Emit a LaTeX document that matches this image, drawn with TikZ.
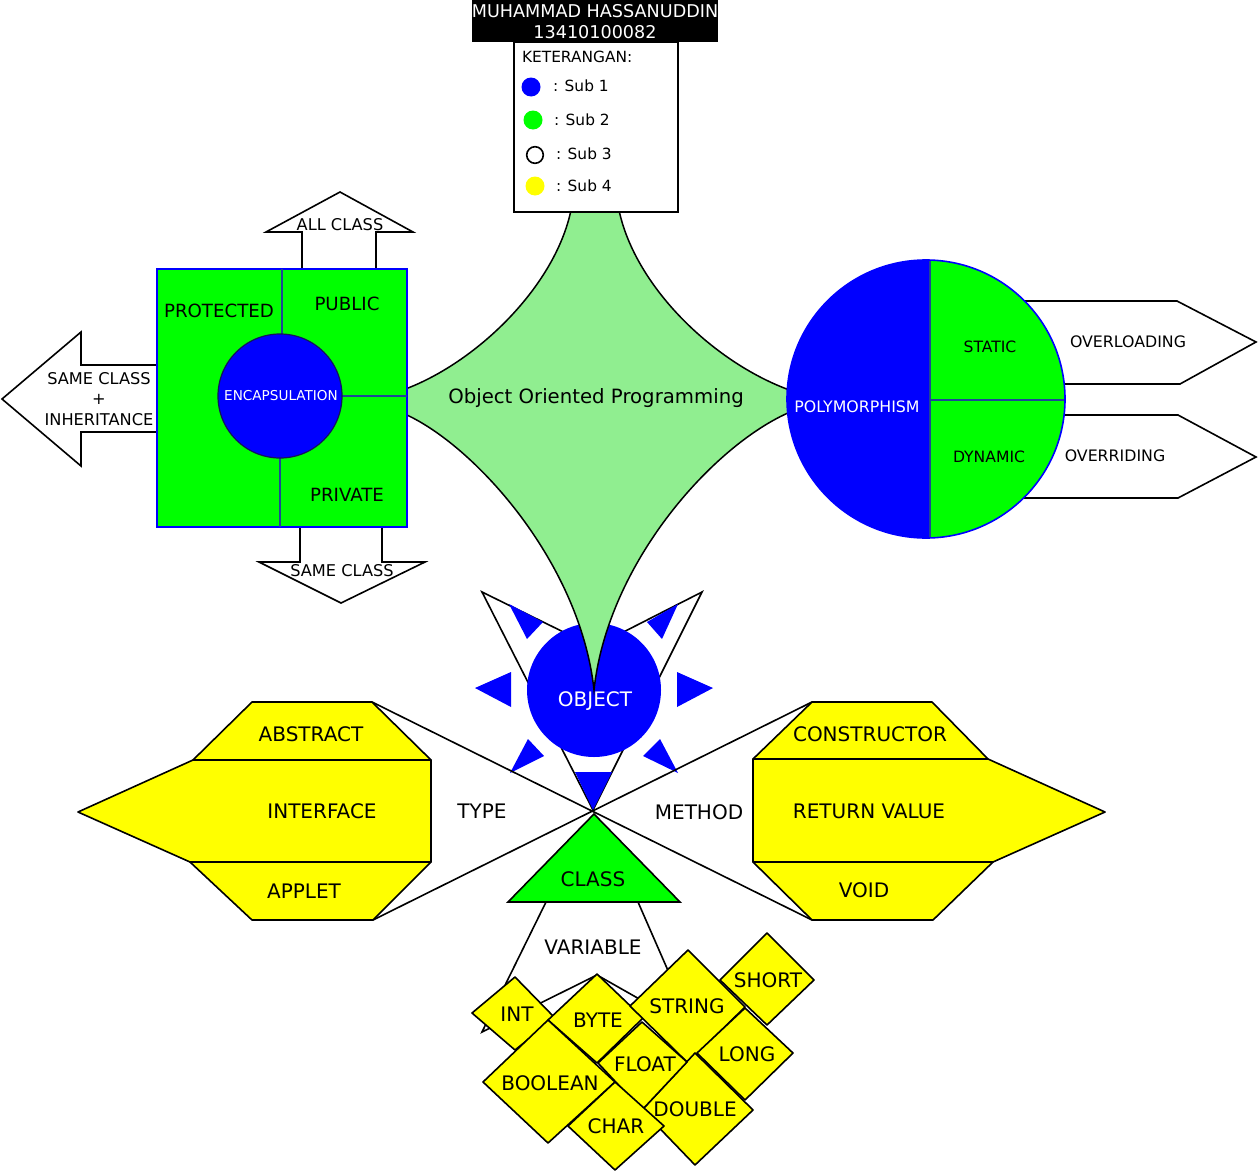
\documentclass[tikz,border=0pt]{standalone}
\usepackage{fontspec}
\setmainfont{DejaVu Sans}
\definecolor{lgreen}{HTML}{90EE90}
\definecolor{fgreen}{HTML}{00FF00}
\definecolor{fblue}{HTML}{0000FF}
\definecolor{fyellow}{HTML}{FFFF00}
\definecolor{divc}{RGB}{30,70,150}
\tikzset{
  fs/.style={font=\fontsize{#1}{#1}\selectfont},
  lbl/.style={inner sep=0pt, outer sep=0pt, anchor=center},
  wlbl/.style={lbl, text=white},
  ln/.style={draw=black, line width=1.6},
  shp/.style={ln, fill=white},
  yel/.style={ln, fill=fyellow, line join=round},
  divline/.style={draw=divc, line width=1.8},
  sun/.style={fill=fblue, draw=none},
}
\begin{document}
\begin{tikzpicture}[x=1pt,y=-1pt]
\useasboundingbox (0,0) rectangle (1260,1175);
\fill[white] (0,0) rectangle (1260,1175);

% ---------------- OBJECT area ----------------
\filldraw[shp] (482,592) -- (594,647) -- (702,592) -- (593,810) -- cycle;
\filldraw[sun] (509,604) -- (543,622) -- (527,639) -- cycle;
\filldraw[sun] (678,604) -- (647,622) -- (662,639) -- cycle;
\filldraw[sun] (475,688) -- (511,672) -- (511,707) -- cycle;
\filldraw[sun] (713,688) -- (677,672) -- (677,707) -- cycle;
\filldraw[sun] (510,773) -- (528,739) -- (544,756) -- cycle;
\filldraw[sun] (678,773) -- (660,739) -- (643,756) -- cycle;
\filldraw[sun] (575,772) -- (612,772) -- (593,810) -- cycle;
\node (object) [circle, fill=fblue, minimum size=134pt, inner sep=0pt] at (594,690) {};

% ---------------- central star ----------------
\filldraw[fill=lgreen, draw=black, line width=1.5]
  (572,205) .. controls (558,285) and (475,365) .. (400,391)
  -- (400,412) .. controls (470,440) and (580,560) .. (594,690)
  .. controls (608,560) and (718,440) .. (795,410)
  -- (795,392) .. controls (715,365) and (632,285) .. (618,205) -- cycle;
\node (oop) [lbl, fs=19.7] at (596,398) {Object Oriented Programming};
\node (objtxt) [wlbl, fs=20] at (595,701) {OBJECT};

% ---------------- TYPE / METHOD ----------------
\coordinate (absTR) at (372,702);
\coordinate (appBR) at (373,920);
\coordinate (conTL) at (812,702);
\coordinate (voiBL) at (812,920);
\draw[ln] (absTR) -- (voiBL);
\draw[ln] (appBR) -- (conTL);

\filldraw[yel] (252,702) -- (absTR) -- (431,760) -- (193,760) -- cycle;
\filldraw[yel] (193,760) -- (431,760) -- (431,862) -- (190,862) -- (78,812) -- cycle;
\filldraw[yel] (190,862) -- (431,862) -- (appBR) -- (252,920) -- cycle;
\node (abstract) [lbl, fs=20] at (311,734) {ABSTRACT};
\node (interface) [lbl, fs=20] at (322,811) {INTERFACE};
\node (applet) [lbl, fs=20] at (304,891) {APPLET};

\filldraw[yel] (conTL) -- (932,702) -- (988,759) -- (753,759) -- cycle;
\filldraw[yel] (753,759) -- (988,759) -- (1105,812) -- (993,862) -- (753,862) -- cycle;
\filldraw[yel] (753,862) -- (993,862) -- (933,920) -- (voiBL) -- cycle;
\node (constructor) [lbl, fs=20] at (870,734) {CONSTRUCTOR};
\node (retval) [lbl, fs=20] at (869,811) {RETURN VALUE};
\node (void) [lbl, fs=20] at (864,890) {VOID};

\node (type) [lbl, fs=20] at (482,811) {TYPE};
\node (method) [lbl, fs=20] at (699,812) {METHOD};

% ---------------- VARIABLE ----------------
\filldraw[shp] (546,902) -- (482,1032) -- (597,975) -- (694,1030) -- (638,902);
\filldraw[ln, fill=fgreen] (508,902) -- (680,902) -- (594,814) -- cycle;
\node (class) [lbl, fs=20] at (593,879) {CLASS};
\node (variable) [lbl, fs=20] at (593,947) {VARIABLE};

\filldraw[yel] (515,977) -- (555,1018) -- (515,1050) -- (472,1013) -- cycle;
\node (int) [lbl, fs=20] at (517,1014) {INT};
\filldraw[yel] (597,974) -- (643,1018) -- (597,1063) -- (548,1020) -- cycle;
\node (byte) [lbl, fs=20] at (598,1020) {BYTE};
\filldraw[yel] (688,950) -- (745,1007) -- (688,1063) -- (630,1006) -- cycle;
\node (string) [lbl, fs=20] at (687,1006) {STRING};
\filldraw[yel] (767,933) -- (814,980) -- (767,1025) -- (720,980) -- cycle;
\node (short) [lbl, fs=20] at (768,980) {SHORT};
\filldraw[yel] (745,1008) -- (793,1053) -- (745,1100) -- (697,1053) -- cycle;
\node (long) [lbl, fs=20] at (747,1054) {LONG};
\filldraw[yel] (695,1053) -- (753,1110) -- (695,1165) -- (642,1110) -- cycle;
\node (double) [lbl, fs=20] at (695,1109) {DOUBLE};
\filldraw[yel] (642,1022) -- (687,1062) -- (642,1110) -- (598,1063) -- cycle;
\node (float) [lbl, fs=20] at (645,1064) {FLOAT};
\filldraw[yel] (548,1020) -- (615,1082) -- (548,1143) -- (483,1082) -- cycle;
\node (boolean) [lbl, fs=20] at (550,1083) {BOOLEAN};
\filldraw[yel] (615,1082) -- (664,1126) -- (615,1170) -- (568,1126) -- cycle;
\node (char) [lbl, fs=20] at (616,1126) {CHAR};

% ---------------- ENCAPSULATION ----------------
\filldraw[shp] (302,275) -- (302,232) -- (266,232) -- (340,192) -- (413,232) -- (376,232) -- (376,275);
\filldraw[shp] (300,520) -- (300,562) -- (259,562) -- (341,603) -- (425,562) -- (382,562) -- (382,520);
\filldraw[shp] (165,365) -- (81,365) -- (81,332) -- (2,399) -- (81,466) -- (81,432) -- (165,432);
\node (encbox) [rectangle, draw=fblue, fill=fgreen, line width=1.6, minimum width=250pt, minimum height=258pt, inner sep=0pt] at (282,398) {};
\draw[divline] (282,269) -- (282,340);
\draw[divline] (335,396) -- (407,396);
\draw[divline] (280,452) -- (280,527);
\node (encap) [circle, fill=fblue, draw={rgb,255:red,20;green,20;blue,90}, line width=1.2, minimum size=124pt, inner sep=0pt] at (280,396) {};
\node (encaptxt) [wlbl, fs=13.6] at (281,396) {ENCAPSULATION};
\node (protected) [lbl, fs=18.2] at (219,311) {PROTECTED};
\node (public) [lbl, fs=18.2] at (347,304) {PUBLIC};
\node (private) [lbl, fs=18.2] at (347,495) {PRIVATE};
\node (allclass) [lbl, fs=16.2] at (340,225) {ALL CLASS};
\node (sameclass) [lbl, fs=16.2] at (342,571) {SAME CLASS};
\node (inherit) [lbl, align=center, font=\fontsize{16.2}{20.5}\selectfont] at (99,399) {SAME CLASS\\+\\INHERITANCE};

% ---------------- POLYMORPHISM ----------------
\filldraw[shp] (1000,301) -- (1177,301) -- (1256,342) -- (1180,384) -- (1000,384);
\filldraw[shp] (1000,415) -- (1178,415) -- (1256,457) -- (1178,498) -- (1000,498);
\node (poly) [circle, fill=fblue, draw=fblue, line width=1.6, minimum size=278pt, inner sep=0pt,
  path picture={
    \fill[fgreen] ([xshift=4pt]path picture bounding box.north) rectangle (path picture bounding box.south east);
    \draw[divline] ([xshift=4pt]path picture bounding box.north) -- ([xshift=4pt]path picture bounding box.south);
    \draw[divline] ([xshift=4pt,yshift=-1pt]path picture bounding box.center) -- ([yshift=-1pt]path picture bounding box.east);}] at (926,399) {};
\node (polytxt) [wlbl, fs=15.8] at (857,407) {POLYMORPHISM};
\node (static) [lbl, fs=15.6] at (990,347) {STATIC};
\node (dynamic) [lbl, fs=15.6] at (989,457) {DYNAMIC};
\node (overloading) [lbl, fs=15.8] at (1128,342) {OVERLOADING};
\node (overriding) [lbl, fs=15.8] at (1115,456) {OVERRIDING};

% ---------------- LEGEND ----------------
\fill[black] (472,0) rectangle (718,42);
\node (name) [wlbl, fs=17.6] at (595,11) {MUHAMMAD HASSANUDDIN};
\node (nim) [wlbl, fs=17.6] at (595,32) {13410100082};
\filldraw[ln, fill=white] (514,42) rectangle (678,212);
\node (ket) [lbl, anchor=west, fs=15.4] at (522,57) {KETERANGAN:};
\fill[fblue] (531,87) circle (9.5);
\fill[fgreen] (533,120) circle (9.5);
\filldraw[draw=black, line width=1.6, fill=white] (535,155) circle (8.3);
\fill[fyellow] (535,186) circle (9.5);
\node (s1) [lbl, anchor=west, fs=15.4] at (553,86) {: Sub 1};
\node (s2) [lbl, anchor=west, fs=15.4] at (554,120) {: Sub 2};
\node (s3) [lbl, anchor=west, fs=15.4] at (556,154) {: Sub 3};
\node (s4) [lbl, anchor=west, fs=15.4] at (556,186) {: Sub 4};
\end{tikzpicture}
\end{document}
